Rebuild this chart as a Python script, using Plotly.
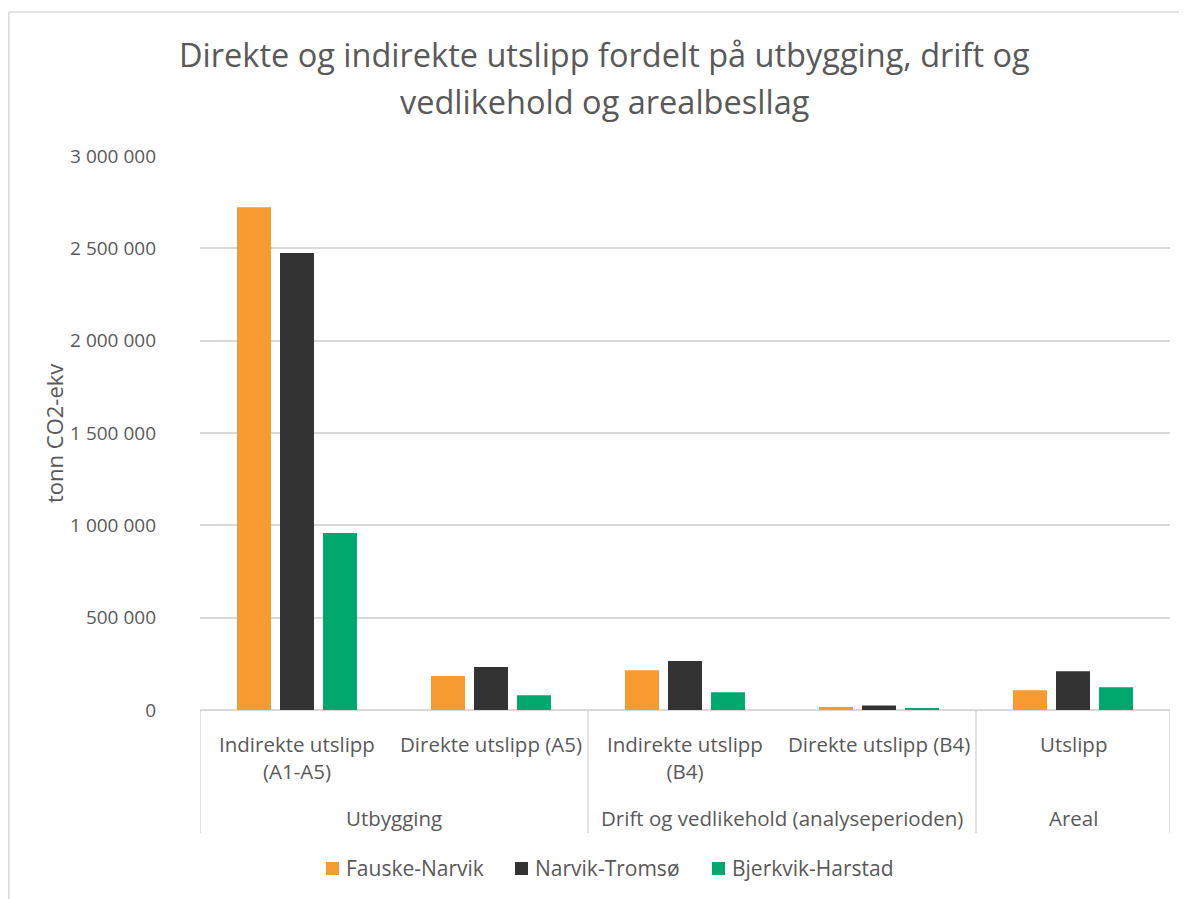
import plotly.graph_objects as go

categories = ["Indirekte utslipp<br>(A1-A5)", "Direkte utslipp (A5)",
              "Indirekte utslipp<br>(B4)", "Direkte utslipp (B4)", "Utslipp"]
groups = ["Utbygging", "Drift og vedlikehold (analyseperioden)", "Areal"]
group_spans = [(0, 1), (2, 3), (4, 4)]
series_names = ["Fauske-Narvik", "Narvik-Tromsø", "Bjerkvik-Harstad"]
fauske_narvik = [2723000, 184000, 215000, 16000, 107000]
narvik_tromso = [2475000, 233000, 265000, 24000, 210000]
bjerkvik_harstad = [959000, 80000, 96000, 9000, 123000]
series_values = [fauske_narvik, narvik_tromso, bjerkvik_harstad]
colors = ["#F79A2F", "#333333", "#00A86D"]
y_ticks = [0, 500000, 1000000, 1500000, 2000000, 2500000, 3000000]
title_lines = ["Direkte og indirekte utslipp fordelt på utbygging, drift og",
               "vedlikehold og arealbesllag"]
y_title = "tonn CO2-ekv"

# page body has an 8px margin; reference pixel coords are converted below
OFF = 8
W, H = 1187 - OFF, 899 - OFF
L, R, T, B = 200, 1170, 156, 710          # plot area in reference pixels
FONT = "Open Sans"
TXT = "#595959"
GRID = "#D9D9D9"


def py(p):  # reference pixel y -> paper y
    return (B - p) / (B - T)


def px(p):  # reference pixel x -> paper x
    return (p - L) / (R - L)


def fmt(v):
    return f"{v:,}".replace(",", " ")


fig = go.Figure()
x_idx = list(range(len(categories)))
for name, vals, c in zip(series_names, series_values, colors):
    fig.add_trace(go.Bar(x=x_idx, y=vals, name=name, marker=dict(color=c, line=dict(width=0)),
                         showlegend=False))

shapes = []
annotations = []
# separators between groups
bounds = [-0.5] + [s[1] + 0.5 for s in group_spans]
for b in bounds:
    shapes.append(dict(type="line", xref="x", yref="paper", x0=b, x1=b, y0=0, y1=py(833),
                       line=dict(color=GRID, width=1.5)))
# outer chart border (left and top)
shapes.append(dict(type="line", xref="paper", yref="paper", x0=px(8.8), x1=px(8.8), y0=py(12), y1=py(910),
                   line=dict(color=GRID, width=1.5)))
shapes.append(dict(type="line", xref="paper", yref="paper", x0=px(8.8), x1=px(1200), y0=py(12), y1=py(12),
                   line=dict(color=GRID, width=1.5)))

# category labels
for i, cat in enumerate(categories):
    annotations.append(dict(x=i, y=py(742), xref="x", yref="paper", text=cat, showarrow=False,
                            yanchor="top", xanchor="center", yshift=14,
                            font=dict(family=FONT, size=20.5, color=TXT)))
# group labels
for g, (a, b) in zip(groups, group_spans):
    annotations.append(dict(x=(a + b) / 2, y=py(818), xref="x", yref="paper", text=g, showarrow=False,
                            yanchor="middle", xanchor="center",
                            font=dict(family=FONT, size=20.5, color=TXT)))
# title (two lines)
for line, yc in zip(title_lines, [54, 102]):
    annotations.append(dict(x=px(604), y=py(yc), xref="paper", yref="paper", text=line,
                            showarrow=False, xanchor="center", yanchor="middle",
                            font=dict(family=FONT, size=32.5, color=TXT)))
# y-axis title
annotations.append(dict(x=px(54), y=py(434), xref="paper", yref="paper", text=y_title, textangle=-90,
                        showarrow=False, xanchor="center", yanchor="middle",
                        font=dict(family=FONT, size=22, color=TXT)))
# legend
legend_x = [326, 515, 712]
for name, c, lx in zip(series_names, colors, legend_x):
    shapes.append(dict(type="rect", xref="paper", yref="paper", x0=px(lx), x1=px(lx + 13),
                       y0=py(875), y1=py(862), line=dict(width=0), fillcolor=c))
    annotations.append(dict(x=px(lx + 18), y=py(868), xref="paper", yref="paper", text=name,
                            showarrow=False, xanchor="left", yanchor="middle",
                            font=dict(family=FONT, size=21, color=TXT)))

fig.update_layout(
    width=W, height=H,
    margin=dict(l=L - OFF, r=W - (R - OFF), t=T - OFF, b=H - (B - OFF), pad=0, autoexpand=False),
    paper_bgcolor="white", plot_bgcolor="white",
    barmode="group", bargap=0.335, bargroupgap=0.21,
    showlegend=False,
    xaxis=dict(range=[-0.5, len(categories) - 0.5], showticklabels=False, showgrid=False, zeroline=False,
               showline=False, ticks="", automargin=False),
    yaxis=dict(range=[0, 3000000], tickvals=y_ticks, ticktext=[fmt(v) for v in y_ticks],
               showgrid=True, gridcolor=GRID, gridwidth=1.5, zeroline=True, zerolinecolor=GRID, zerolinewidth=1.5,
               showline=False, ticks="", ticklabelstandoff=43, automargin=False,
               tickfont=dict(family=FONT, size=19, color=TXT)),
    shapes=shapes, annotations=annotations,
)

fig.write_html("out.html")
